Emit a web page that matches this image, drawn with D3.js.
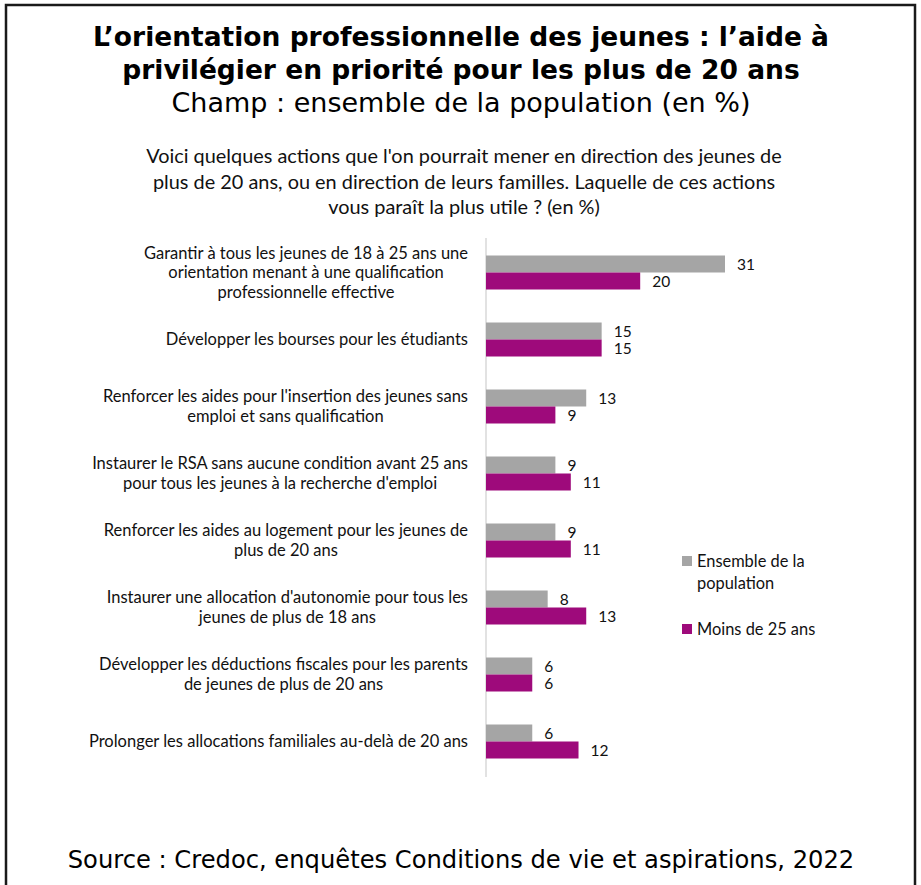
<!DOCTYPE html>
<html>
<head>
<meta charset="utf-8">
<script src="https://cdn.jsdelivr.net/npm/d3@7"></script>
<style>
  body { margin: 0; background: #fff; }
  svg { display: block; }
</style>
</head>
<body>
<div id="chart-area"></div>
<script>

// data
var actions = [
    "Garantir à tous les jeunes de 18 à 25 ans une|orientation menant à une qualification|professionnelle effective",
    "Développer les bourses pour les étudiants",
    "Renforcer les aides pour l'insertion des jeunes sans|emploi et sans qualification",
    "Instaurer le RSA sans aucune condition avant 25 ans|pour tous les jeunes à la recherche d'emploi",
    "Renforcer les aides au logement pour les jeunes de|plus de 20 ans",
    "Instaurer une allocation d'autonomie pour tous les|jeunes de plus de 18 ans",
    "Développer les déductions fiscales pour les parents|de jeunes de plus de 20 ans",
    "Prolonger les allocations familiales au-delà de 20 ans"
];
var ensemble = [31, 15, 13, 9, 9, 8, 6, 6];
var moins25 = [20, 15, 9, 11, 11, 13, 6, 12];
var seriesNames = ["Ensemble de la|population", "Moins de 25 ans"];
var colors = ["#a5a5a5", "#9e0a7b"];

var W = 921, H = 885;
var labelFont = "Lato, 'Open Sans', sans-serif";
var titleFont = "'DejaVu Sans', Verdana, sans-serif";

var svg = d3.select("#chart-area")
    .append("svg")
        .attr("width", W)
        .attr("height", H);

// frame (no bottom edge, it runs off the picture)
svg.append("path")
    .attr("d", "M6,885 V5 H915 V885")
    .attr("fill", "none")
    .attr("stroke", "#1a1a1a")
    .attr("stroke-width", 2.5);

// Titles
var titleLines = ["L’orientation professionnelle des jeunes : l’aide à",
                  "privilégier en priorité pour les plus de 20 ans"];
titleLines.forEach(function(t, i) {
    svg.append("text")
        .attr("x", 461)
        .attr("y", 46 + i * 33)
        .attr("text-anchor", "middle")
        .attr("font-family", titleFont)
        .attr("font-weight", "bold")
        .attr("font-size", "26.5px")
        .text(t);
});

svg.append("text")
    .attr("x", 461)
    .attr("y", 112)
    .attr("text-anchor", "middle")
    .attr("font-family", titleFont)
    .attr("font-size", "27px")
    .text("Champ : ensemble de la population (en %)");

var question = ["Voici quelques actions que l'on pourrait mener en direction des jeunes de",
                "plus de 20 ans, ou en direction de leurs familles. Laquelle de ces actions",
                "vous paraît la plus utile ? (en %)"];
question.forEach(function(t, i) {
    svg.append("text")
        .attr("x", 464)
        .attr("y", 163 + i * 25.5)
        .attr("text-anchor", "middle")
        .attr("font-family", labelFont)
        .attr("font-size", "19.9px")
        .attr("fill", "#111")
        .text(t);
});

// Scales
var x0 = 486;
var x = d3.scaleLinear()
    .domain([0, 31])
    .range([x0, 725]);

var y = d3.scaleBand()
    .domain(d3.range(actions.length))
    .range([239, 775]);

var barH = 17;

// axis line
svg.append("line")
    .attr("x1", x0).attr("x2", x0)
    .attr("y1", 238).attr("y2", 777)
    .attr("stroke", "#d9d9d9")
    .attr("stroke-width", 1.5);

// Category labels: right edge at 468, lines centred within the block
var labelRight = 468;
actions.forEach(function(a, i) {
    var lines = a.split("|");
    var g = svg.append("g");
    var cy = y(i) + y.bandwidth() / 2;
    var lh = 19.5;
    var texts = lines.map(function(l, j) {
        return g.append("text")
            .attr("y", cy + (j - (lines.length - 1) / 2) * lh + 5.5)
            .attr("font-family", labelFont)
            .attr("font-size", "16.5px")
            .attr("fill", "#111")
            .attr("text-anchor", "middle")
            .text(l);
    });
    var maxW = d3.max(texts, function(t) { return t.node().getComputedTextLength(); });
    texts.forEach(function(t) { t.attr("x", labelRight - maxW / 2); });
});

// Bars
[ensemble, moins25].forEach(function(vals, s) {
    svg.selectAll(".bar" + s)
        .data(vals)
        .enter()
        .append("rect")
            .attr("class", "bar" + s)
            .attr("x", x0)
            .attr("y", function(d, i) { return y(i) + y.bandwidth() / 2 - barH + s * barH; })
            .attr("width", function(d) { return x(d) - x0; })
            .attr("height", barH)
            .attr("fill", colors[s]);

    svg.selectAll(".val" + s)
        .data(vals)
        .enter()
        .append("text")
            .attr("class", "val" + s)
            .attr("x", function(d) { return x(d) + 12; })
            .attr("y", function(d, i) { return y(i) + y.bandwidth() / 2 - barH / 2 + s * barH + 5.5; })
            .attr("font-family", labelFont)
            .attr("font-size", "15.5px")
            .attr("fill", "#111")
            .text(function(d) { return d; });
});

// Legend
var legendY = [561, 629];
seriesNames.forEach(function(n, s) {
    svg.append("rect")
        .attr("x", 682)
        .attr("y", legendY[s] - 5)
        .attr("width", 10)
        .attr("height", 10)
        .attr("fill", colors[s]);
    n.split("|").forEach(function(l, j) {
        svg.append("text")
            .attr("x", 697)
            .attr("y", legendY[s] + 5.5 + j * 22)
            .attr("font-family", labelFont)
            .attr("font-size", "16.4px")
            .attr("fill", "#111")
            .text(l);
    });
});

// Source
svg.append("text")
    .attr("x", 461)
    .attr("y", 868)
    .attr("text-anchor", "middle")
    .attr("font-family", titleFont)
    .attr("font-size", "24.2px")
    .text("Source : Credoc, enquêtes Conditions de vie et aspirations, 2022");

</script>
</body>
</html>
